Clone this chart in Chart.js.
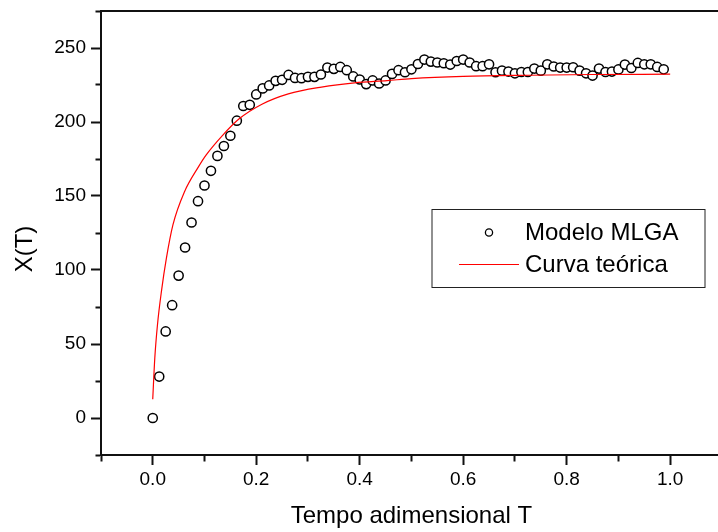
<!DOCTYPE html>
<html>
<head>
<meta charset="utf-8">
<script src="https://cdn.jsdelivr.net/npm/chart.js@4/dist/chart.umd.min.js"></script>
<style>
  html, body { margin: 0; padding: 0; background: #ffffff; overflow: hidden; }
  #wrap { width: 728px; height: 532px; }
</style>
</head>
<body>
<div id="wrap"><canvas id="c" width="728" height="532"></canvas></div>
<script>
// ---- data ----
const seriesNames = ["Modelo MLGA", "Curva teórica"];
const xTitle = "Tempo adimensional T";
const yTitle = "X(T)";

const mlgaT = [0, 0.0125, 0.025, 0.0375, 0.05, 0.0625, 0.075, 0.0875, 0.1, 0.1125,
  0.125, 0.1375, 0.15, 0.1625, 0.175, 0.1875, 0.2, 0.2125, 0.225, 0.2375,
  0.25, 0.2625, 0.275, 0.2875, 0.3, 0.3125, 0.325, 0.3375, 0.35, 0.3625,
  0.375, 0.3875, 0.4, 0.4125, 0.425, 0.4375, 0.45, 0.4625, 0.475, 0.4875,
  0.5, 0.5125, 0.525, 0.5375, 0.55, 0.5625, 0.575, 0.5875, 0.6, 0.6125,
  0.625, 0.6375, 0.65, 0.6625, 0.675, 0.6875, 0.7, 0.7125, 0.725, 0.7375,
  0.75, 0.7625, 0.775, 0.7875, 0.8, 0.8125, 0.825, 0.8375, 0.85, 0.8625,
  0.875, 0.8875, 0.9, 0.9125, 0.925, 0.9375, 0.95, 0.9625, 0.975, 0.9875];
const mlgaX = [0, 28, 58.5, 76.2, 96.2, 115.2, 132.1, 146.5, 157.1, 167,
  177.1, 183.8, 190.7, 200.9, 210.8, 211.6, 218.6, 222.7, 224.7, 227.8,
  228.5, 231.8, 229.8, 229.6, 230.5, 230.5, 232.1, 236.8, 235.9, 237.2,
  235, 230.8, 228.7, 225.6, 228.1, 226, 228.1, 232.5, 235, 233.6,
  235.6, 239.2, 242.2, 240.8, 240.2, 239.7, 238.8, 241.2, 242.2, 240.2,
  237.7, 237.7, 239, 233.6, 234.7, 234.1, 232.9, 233.8, 233.8, 236.1,
  234.7, 239, 237.5, 236.8, 236.8, 237, 234.7, 232.9, 231.4, 236.1,
  233.8, 234.1, 235.5, 238.8, 236.5, 239.9, 239, 239, 237.2, 235.6];

const curveT = [0, 0.004, 0.0092, 0.0168, 0.0264, 0.039, 0.0614, 0.088, 0.103, 0.135,
  0.1665, 0.211, 0.262, 0.326, 0.39, 0.453, 0.5, 0.6, 0.727, 0.85, 1.0];
const curveX = [12.7, 40.7, 63.2, 85.6, 108, 130.5, 152.9, 169.5, 177.6, 191,
  202, 212, 219, 223.6, 226.5, 228, 229.3, 230.8, 231.6, 232.1, 232.3];

const yTickLabels = [0, 50, 100, 150, 200, 250];
const xTickLabels = [0.0, 0.2, 0.4, 0.6, 0.8, 1.0];

// ---- build chart ----
const mlgaPts = mlgaT.map((t, i) => ({x: t, y: mlgaX[i]}));
const curvePts = curveT.map((t, i) => ({x: t, y: curveX[i]}));

const FONT = "'Liberation Sans', Arial, sans-serif";

function isMajorX(v) {
  return xTickLabels.some(l => Math.abs(l - v) < 1e-6);
}
function isMajorY(v) {
  return yTickLabels.some(l => Math.abs(l - v) < 1e-6);
}

const legendPlugin = {
  id: 'boxLegend',
  afterDraw(chart) {
    const ctx = chart.ctx;
    ctx.save();
    ctx.strokeStyle = '#222';
    ctx.lineWidth = 1;
    ctx.strokeRect(432, 209.5, 273, 78);
    ctx.beginPath();
    ctx.arc(489, 232.5, 3.6, 0, Math.PI * 2);
    ctx.fillStyle = '#fff';
    ctx.fill();
    ctx.strokeStyle = '#000';
    ctx.lineWidth = 1.3;
    ctx.stroke();
    ctx.beginPath();
    ctx.moveTo(459, 264.5);
    ctx.lineTo(519, 264.5);
    ctx.strokeStyle = '#ff0000';
    ctx.lineWidth = 1.2;
    ctx.stroke();
    ctx.fillStyle = '#000';
    ctx.font = "24px " + FONT;
    ctx.textAlign = 'left';
    ctx.textBaseline = 'middle';
    ctx.fillText(chart.data.datasets[1].label, 525, 233);
    ctx.fillText(chart.data.datasets[0].label, 525, 265);
    ctx.save();
    ctx.translate(25, 249);
    ctx.rotate(-Math.PI / 2);
    ctx.textAlign = 'center';
    ctx.textBaseline = 'middle';
    ctx.font = "24px " + FONT;
    ctx.fillText(yTitle, 0, 0);
    ctx.restore();
    ctx.restore();
  }
};

new Chart(document.getElementById('c'), {
  type: 'scatter',
  data: {
    datasets: [
      {
        label: seriesNames[1],
        data: curvePts,
        showLine: true,
        borderColor: '#ff0000',
        borderWidth: 1.2,
        pointRadius: 0,
        cubicInterpolationMode: 'monotone',
        fill: false
      },
      {
        label: seriesNames[0],
        data: mlgaPts,
        showLine: false,
        pointStyle: 'circle',
        pointRadius: 4.6,
        pointBorderWidth: 1.5,
        borderColor: '#000',
        backgroundColor: '#fff',
        pointBackgroundColor: '#fff',
        pointBorderColor: '#000'
      }
    ]
  },
  options: {
    responsive: false,
    animation: false,
    events: [],
    layout: { padding: 0 },
    plugins: {
      legend: { display: false },
      tooltip: { enabled: false }
    },
    scales: {
      x: {
        type: 'linear',
        position: 'bottom',
        min: -0.1,
        max: 1.1,
        afterFit: s => { s.height = 77; s.paddingLeft = 0; s.paddingRight = 0; },
        border: { display: true, color: '#111', width: 2 },
        grid: {
          drawOnChartArea: false,
          drawTicks: true,
          tickLength: 10,
          tickWidth: 2,
          tickColor: '#111',
          tickBorderDash: ctx => isMajorX(ctx.tick.value) ? [] : [5.5, 100]
        },
        ticks: {
          stepSize: 0.1,
          autoSkip: false,
          maxRotation: 0,
          padding: 3,
          color: '#000',
          font: { family: FONT, size: 19 },
          callback: v => isMajorX(v) ? v.toFixed(1) : ''
        },
        title: {
          display: true,
          text: xTitle,
          color: '#000',
          font: { family: FONT, size: 24 },
          padding: { top: 0, bottom: 1 }
        }
      },
      xTop: {
        type: 'linear',
        position: 'top',
        min: -0.1,
        max: 1.1,
        afterFit: s => { s.height = 11; s.paddingLeft = 0; s.paddingRight = 0; },
        border: { display: true, color: '#111', width: 2 },
        grid: { drawOnChartArea: false, drawTicks: false },
        ticks: { display: false }
      },
      y: {
        type: 'linear',
        position: 'left',
        min: -25,
        max: 275,
        afterFit: s => { s.width = 101; s.paddingTop = 0; s.paddingBottom = 0; },
        border: { display: true, color: '#111', width: 2 },
        grid: {
          drawOnChartArea: false,
          drawTicks: true,
          tickLength: 10,
          tickWidth: 2,
          tickColor: '#111',
          tickBorderDash: ctx => isMajorY(ctx.tick.value) ? [] : [0, 4.5, 20]
        },
        ticks: {
          stepSize: 25,
          autoSkip: false,
          padding: 5,
          color: '#000',
          font: { family: FONT, size: 19 },
          callback: v => isMajorY(v) ? String(v) : ''
        },
        title: { display: false }
      }
    }
  },
  plugins: [legendPlugin]
});
</script>
</body>
</html>
